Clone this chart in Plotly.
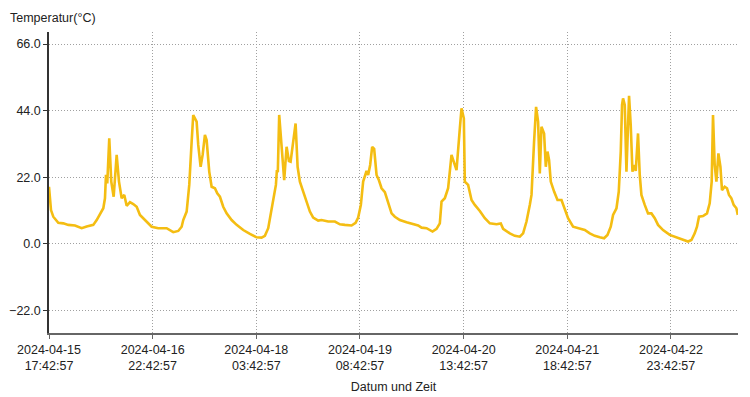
import datetime as dt
import plotly.graph_objects as go

# ---- data ----
start_time = "2024-04-15 17:42:57"
# hours elapsed since start_time
hours = [0.0, 0.56, 1.2, 2.6, 4.0, 5.4, 7.27, 9.14, 10.54, 12.39, 13.34, 14.26, 15.19, 15.66, 15.94, 16.3,
         16.86, 17.42, 18.09, 18.93, 19.58, 20.33, 21.06, 21.73, 22.65, 23.57, 24.53, 25.45, 26.85, 28.72,
         30.57, 32.91, 34.76, 36.16, 37.11, 37.56, 38.51, 39.24, 39.91, 40.35, 41.3, 41.75, 42.42, 42.98,
         43.62, 44.1, 44.83, 45.5, 46.42, 47.07, 47.82, 48.74, 49.69, 51.09, 52.49, 54.34, 56.21, 58.08,
         59.48, 60.4, 61.33, 62.08, 62.73, 63.48, 63.76, 64.01, 64.4, 65.07, 65.8, 66.47, 67.12, 67.59,
         68.99, 69.55, 70.19, 71.12, 72.06, 72.99, 73.91, 75.31, 76.26, 78.11, 79.98, 81.38, 82.78, 84.65,
         85.77, 86.5, 87.25, 87.89, 88.84, 89.29, 89.85, 90.41, 90.97, 91.64, 92.28, 93.04, 93.96, 94.89,
         95.84, 96.76, 98.16, 100.03, 101.88, 103.28, 104.23, 105.62, 107.3, 108.42, 109.34, 109.82,
         110.74, 111.66, 112.61, 113.54, 114.01, 114.94, 115.41, 116.06, 116.33, 117.26, 118.21, 119.13,
         120.53, 121.93, 123.33, 125.2, 126.4, 127.05, 128.16, 128.92, 130.32, 131.72, 132.64, 133.59,
         134.51, 134.99, 135.71, 136.27, 136.83, 137.31, 137.78, 138.51, 138.99, 139.46, 139.91, 140.38,
         141.31, 142.26, 143.38, 144.3, 145.22, 146.62, 148.02, 149.89, 151.29, 152.69, 154.09, 155.29,
         156.24, 157.16, 157.81, 158.76, 159.4, 159.96, 160.32, 160.6, 161.08, 161.55, 162.28, 162.75,
         163.23, 163.67, 164.15, 164.79, 165.27, 165.74, 166.67, 167.59, 168.54, 169.47, 170.39, 171.79,
         173.66, 175.53, 177.38, 178.78, 179.73, 180.65, 181.29, 181.85, 182.97, 184.09, 184.84, 185.4,
         185.77, 186.24, 186.72, 187.28, 187.84, 188.28, 189.04, 189.68, 190.24, 190.91, 191.55, 192.31,
         192.7]
temperature = [18.9, 11.2, 9.0, 7.0, 6.8, 6.3, 6.1, 5.2, 5.8, 6.3, 7.9, 10.1, 11.8, 15.1, 22.8, 20.0,
               34.9, 20.6, 15.6, 29.4, 20.6, 15.1, 16.2, 12.6, 13.8, 13.2, 12.3, 9.6, 7.9, 5.7,
               5.2, 5.2, 3.9, 4.3, 5.7, 7.9, 10.7, 19.5, 33.8, 42.6, 40.4, 32.7, 25.5, 29.4,
               36.0, 34.3, 23.9, 18.9, 18.4, 16.7, 15.6, 12.3, 10.1, 7.9, 6.3, 4.6, 3.3, 2.2,
               2.1, 2.7, 5.2, 10.1, 15.1, 19.5, 24.4, 23.7, 42.6, 30.5, 21.1, 32.1, 27.4, 27.2,
               39.8, 25.5, 20.6, 17.3, 14.0, 10.7, 8.7, 7.7, 7.9, 7.4, 7.4, 6.5, 6.3, 6.1,
               7.0, 8.7, 12.9, 20.6, 24.1, 22.8, 26.1, 32.1, 31.4, 22.8, 21.1, 18.4, 17.1, 14.0,
               10.1, 9.0, 7.9, 7.2, 6.5, 6.1, 5.4, 5.2, 4.1, 5.0, 6.8, 14.0,
               15.1, 18.4, 29.4, 26.1, 24.4, 38.2, 44.8, 41.5, 20.6, 19.5, 14.5, 12.9,
               10.9, 8.5, 6.8, 6.5, 6.8, 5.0, 4.1, 3.5, 2.7, 2.4, 3.5, 7.4,
               12.9, 16.2, 33.8, 45.3, 40.4, 23.3, 38.7, 36.5, 25.5, 30.5, 27.7, 20.6,
               17.3, 14.5, 14.5, 11.8, 8.5, 5.7, 5.2, 4.6, 3.5, 2.7, 2.2, 1.9,
               3.0, 5.7, 9.6, 11.8, 17.3, 30.5, 45.9, 48.1, 45.9, 23.9, 48.9, 39.3,
               23.9, 26.1, 24.1, 36.5, 22.8, 16.2, 12.9, 10.1, 10.1, 8.5, 6.3, 4.6,
               3.0, 2.1, 1.3, 0.8, 1.3, 3.5, 5.7, 9.0, 9.2, 10.1, 13.4, 20.6,
               42.6, 26.1, 20.6, 29.9, 25.5, 17.8, 18.9, 18.4, 16.2, 15.1, 12.9, 11.8,
               9.6]
y_ticks = [-22.0, 0.0, 22.0, 44.0, 66.0]
tick_step_hours = 29
x_span_hours = 192.76
y_range = [-29.4, 70.0]

t0 = dt.datetime.strptime(start_time, "%Y-%m-%d %H:%M:%S")
times = [t0 + dt.timedelta(hours=h) for h in hours]
t_end = t0 + dt.timedelta(hours=x_span_hours)

FONT = "Liberation Sans, Arial, sans-serif"
GRID = dict(showgrid=True, gridcolor="#a0a0a0", griddash="1px,2px", gridwidth=1)

fig = go.Figure(go.Scatter(
    x=times, y=temperature, mode="lines",
    line=dict(color="#F4BD12", width=2.6),
    hoverinfo="x+y",
))

# page body has an 8px default margin, so the figure is 8px smaller
fig.update_layout(
    width=742, height=389,
    margin=dict(l=41, r=12, t=24, b=64),
    paper_bgcolor="white", plot_bgcolor="white",
    showlegend=False,
    font=dict(family=FONT, size=12.5, color="#222222"),
    annotations=[dict(
        text="Temperatur(°C)", xref="paper", yref="paper", x=-41 / 689, y=1.0,
        xanchor="left", yanchor="top", yshift=23, showarrow=False,
        font=dict(family=FONT, size=12.5, color="#222222"),
    )],
)

fig.update_xaxes(
    type="date", automargin=False,
    range=[t0, t_end],
    tick0=t0, dtick=tick_step_hours * 3600 * 1000,
    tickformat="%Y-%m-%d<br>%H:%M:%S",
    showline=True, linecolor="#666666", linewidth=1.5,
    ticks="outside", ticklen=4, tickcolor="#666666",
    zeroline=False,
    title=dict(text="Datum und Zeit", standoff=10, font=dict(size=12.5)),
    **GRID,
)
fig.update_yaxes(
    automargin=False,
    range=y_range,
    tickvals=y_ticks, tickformat=".1f",
    showline=True, linecolor="#333333", linewidth=1.5,
    ticks="outside", ticklen=4, tickcolor="#333333",
    zeroline=False,
    **GRID,
)

fig.write_html("out.html")
